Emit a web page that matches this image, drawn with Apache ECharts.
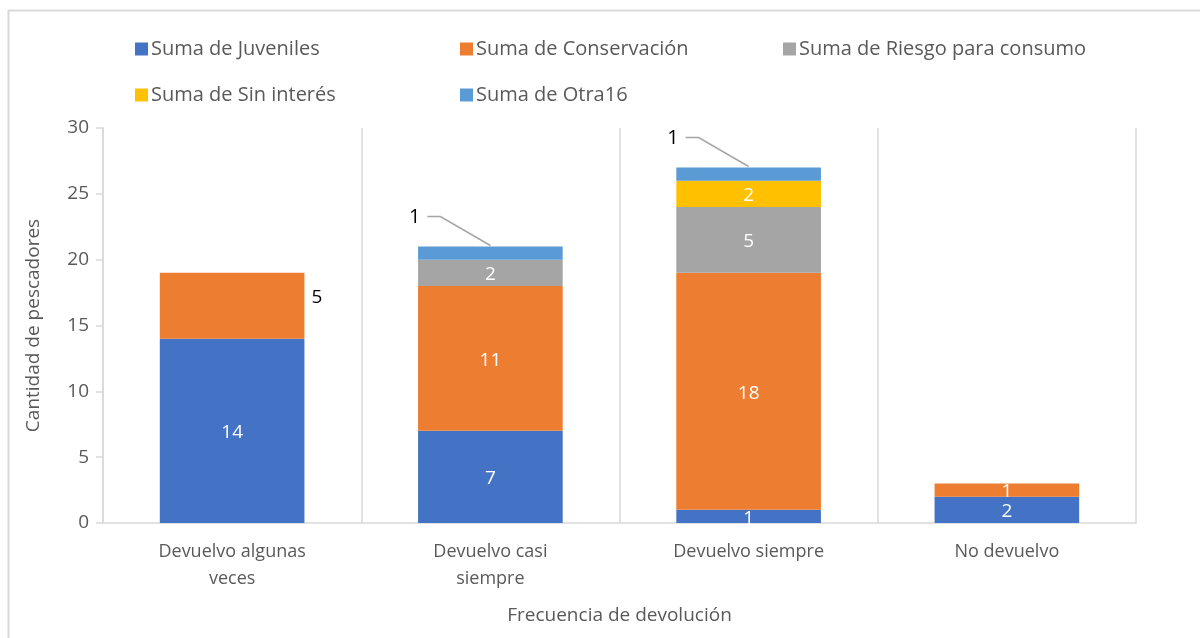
<!DOCTYPE html>
<html>
<head>
<meta charset="utf-8">
<script src="https://cdn.jsdelivr.net/npm/echarts@6/dist/echarts.min.js"></script>
<style>
  html, body { margin: 0; padding: 0; background: #fff; }
  #main { width: 1200px; height: 638px; }
</style>
</head>
<body>
<div id="main"></div>
<script>
var categories = ['Devuelvo algunas veces', 'Devuelvo casi siempre', 'Devuelvo siempre', 'No devuelvo'];
var juveniles = [14, 7, 1, 2];
var conservacion = [5, 11, 18, 1];
var riesgo = [0, 2, 5, 0];
var sinInteres = [0, 0, 2, 0];
var otra16 = [0, 1, 1, 0];
var yTicks = [0, 5, 10, 15, 20, 25, 30];

var FONT = '"Open Sans", "DejaVu Sans", sans-serif';

function hideZero(p) {
    return p.value === 0 ? '' : String(p.value);
}

function legendAt(name, left, top) {
    return {
        data: [name],
        left: left,
        top: top,
        itemWidth: 13,
        itemHeight: 13,
        icon: 'rect',
        itemGap: 4,
        textStyle: { fontFamily: FONT, fontSize: 20, color: '#595959', padding: [0, 0, 0, -2] }
    };
}

// callouts for the small Otra16 segments: anchored on the stack top
var calloutData = [];
otra16.forEach(function (v, i) {
    if (v > 0) {
        var total = juveniles[i] + conservacion[i] + riesgo[i] + sinInteres[i] + otra16[i];
        calloutData.push([i, total, v]);
    }
});

var myChart = echarts.init(document.getElementById('main'));

var option = {
    animation: false,
    textStyle: { fontFamily: FONT },
    graphic: [{
        type: 'rect',
        shape: { x: 8.5, y: 10.5, width: 1220, height: 660 },
        style: { fill: 'none', stroke: '#d9d9d9', lineWidth: 2 }
    }],
    legend: [
        legendAt('Suma de Juveniles', 130, 34),
        legendAt('Suma de Conservación', 455, 34),
        legendAt('Suma de Riesgo para consumo', 778, 34),
        legendAt('Suma de Sin interés', 130, 80),
        legendAt('Suma de Otra16', 455, 80)
    ],
    grid: { left: 103, right: 64, top: 128, bottom: 115 },
    xAxis: {
        type: 'category',
        data: categories,
        name: 'Frecuencia de devolución',
        nameLocation: 'middle',
        nameGap: 83,
        nameTextStyle: { fontSize: 19, color: '#595959' },
        axisLine: { lineStyle: { color: '#d9d9d9', width: 1.5 } },
        axisTick: { show: false },
        splitLine: { show: true, lineStyle: { color: '#d9d9d9', width: 1.5 } },
        axisLabel: {
            fontSize: 18,
            color: '#595959',
            margin: 15,
            lineHeight: 27,
            interval: 0,
            formatter: function (v) {
                if (v === 'Devuelvo algunas veces') return 'Devuelvo algunas\nveces';
                if (v === 'Devuelvo casi siempre') return 'Devuelvo casi\nsiempre';
                return v;
            }
        }
    },
    yAxis: {
        type: 'value',
        min: 0,
        max: 30,
        interval: 5,
        name: 'Cantidad de pescadores',
        nameLocation: 'middle',
        nameGap: 60,
        nameTextStyle: { fontSize: 19, color: '#595959' },
        axisLine: { show: true, lineStyle: { color: '#d9d9d9', width: 1.5 } },
        axisTick: { show: true, length: 7, lineStyle: { color: '#d9d9d9', width: 1.5 } },
        splitLine: { show: false },
        axisLabel: {
            fontSize: 19,
            color: '#595959',
            margin: 14,
            formatter: function (v) { return yTicks.indexOf(v) >= 0 ? String(v) : ''; }
        }
    },
    series: [
        {
            name: 'Suma de Juveniles',
            type: 'bar',
            stack: 'total',
            barWidth: '56%',
            data: juveniles,
            itemStyle: { color: '#4472C4' },
            label: { show: true, position: 'inside', color: '#fff', fontSize: 19, offset: [0, 2], formatter: hideZero }
        },
        {
            name: 'Suma de Conservación',
            type: 'bar',
            stack: 'total',
            data: conservacion.map(function (v, i) {
                if (i === 0) {
                    return {
                        value: v,
                        label: { position: 'right', color: '#000', offset: [2, -8] }
                    };
                }
                return v;
            }),
            itemStyle: { color: '#ED7D31' },
            label: { show: true, position: 'inside', color: '#fff', fontSize: 19, offset: [0, 2], formatter: hideZero }
        },
        {
            name: 'Suma de Riesgo para consumo',
            type: 'bar',
            stack: 'total',
            data: riesgo,
            itemStyle: { color: '#A5A5A5' },
            label: { show: true, position: 'inside', color: '#fff', fontSize: 19, offset: [0, 2], formatter: hideZero }
        },
        {
            name: 'Suma de Sin interés',
            type: 'bar',
            stack: 'total',
            data: sinInteres,
            itemStyle: { color: '#FFC000' },
            label: { show: true, position: 'inside', color: '#fff', fontSize: 19, offset: [0, 2], formatter: hideZero }
        },
        {
            name: 'Suma de Otra16',
            type: 'bar',
            stack: 'total',
            data: otra16,
            itemStyle: { color: '#5B9BD5' },
            label: { show: false }
        },
        {
            name: 'callout',
            type: 'custom',
            data: calloutData,
            z: 5,
            renderItem: function (params, api) {
                var pt = api.coord([api.value(0), api.value(1)]);
                var x = pt[0], y = pt[1] - 1;
                return {
                    type: 'group',
                    children: [
                        {
                            type: 'polyline',
                            shape: { points: [[x, y], [x - 50, y - 29], [x - 63, y - 29]] },
                            style: { stroke: '#A5A5A5', lineWidth: 1.5, fill: null }
                        },
                        {
                            type: 'text',
                            style: {
                                x: x - 70,
                                y: y - 28,
                                text: String(api.value(2)),
                                fill: '#000',
                                font: '20px ' + FONT,
                                align: 'right',
                                verticalAlign: 'middle'
                            }
                        }
                    ]
                };
            }
        }
    ]
};

myChart.setOption(option);
</script>
</body>
</html>
